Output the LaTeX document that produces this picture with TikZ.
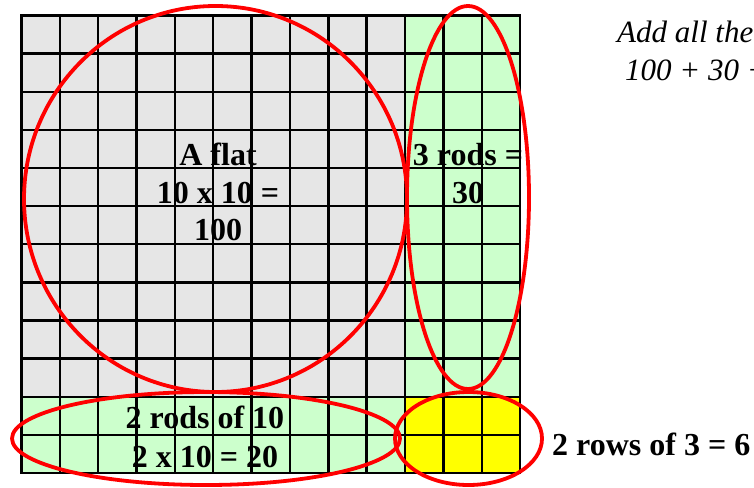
\documentclass[tikz,border=0pt]{standalone}
\usepackage{fontspec}
\setmainfont{Liberation Serif}
\definecolor{flatgray}{HTML}{E6E6E6}
\definecolor{rodgreen}{HTML}{CCFFCC}
\definecolor{unityellow}{HTML}{FFFF00}
\definecolor{ringred}{HTML}{FF0000}
\begin{document}
\begin{tikzpicture}[x=1pt,y=-1pt,
  gridline/.style={line width=2.4pt,black},
  ring/.style={draw=ringred,line width=3.8pt},
  boldlbl/.style={anchor=base,inner sep=0pt,font=\fontsize{32}{37}\selectfont\bfseries},
  itallbl/.style={anchor=base west,inner sep=0pt,font=\fontsize{31}{37}\selectfont\itshape}]
\useasboundingbox (0,0) rectangle (754,487);
\clip (0,0) rectangle (754,487);
\def\cw{38.35}
\def\ch{38.12}
\def\xo{21.5}
\def\yo{15.5}
% fills
\fill[flatgray] (\xo,\yo) rectangle ({\xo+10*\cw},{\yo+10*\ch});
\fill[rodgreen] ({\xo+10*\cw},\yo) rectangle ({\xo+13*\cw},{\yo+10*\ch});
\fill[rodgreen] (\xo,{\yo+10*\ch}) rectangle ({\xo+10*\cw},{\yo+12*\ch});
\fill[unityellow] ({\xo+10*\cw},{\yo+10*\ch}) rectangle ({\xo+13*\cw},{\yo+12*\ch});
% grid
\foreach \i in {0,...,13} \draw[gridline] ({\xo+\i*\cw},{\yo-1.2}) -- ({\xo+\i*\cw},{\yo+12*\ch+1.2});
\foreach \j in {0,...,12} \draw[gridline] ({\xo-1.2},{\yo+\j*\ch}) -- ({\xo+13*\cw+1.2},{\yo+\j*\ch});
% ellipses
\draw[ring] (215.5,199) ellipse [x radius=191.5, y radius=193];
\draw[ring] (468,197.5) ellipse [x radius=61, y radius=191.5];
\draw[ring] (206,438.5) ellipse [x radius=194, y radius=46.5];
\draw[ring] (468.5,438.5) ellipse [x radius=73.5, y radius=46.5];
% labels
\node[boldlbl] (flatA) at (218,165) {A flat};
\node[boldlbl] (flatB) at (218,203) {10 x 10 =};
\node[boldlbl] (flatC) at (218,240) {100};
\node[boldlbl] (rodsA) at (468,165) {3 rods =};
\node[boldlbl] (rodsB) at (468,203) {30};
\node[boldlbl] (twoA) at (205,428) {2 rods of 10};
\node[boldlbl] (twoB) at (205,467) {2 x 10 = 20};
\node[boldlbl,anchor=base west] (six) at (552,455) {2 rows of 3 = 6};
\node[itallbl] (addA) at (617,43) {Add all the};
\node[itallbl] (addB) at (625,80) {100 + 30 +};
\end{tikzpicture}
\end{document}
